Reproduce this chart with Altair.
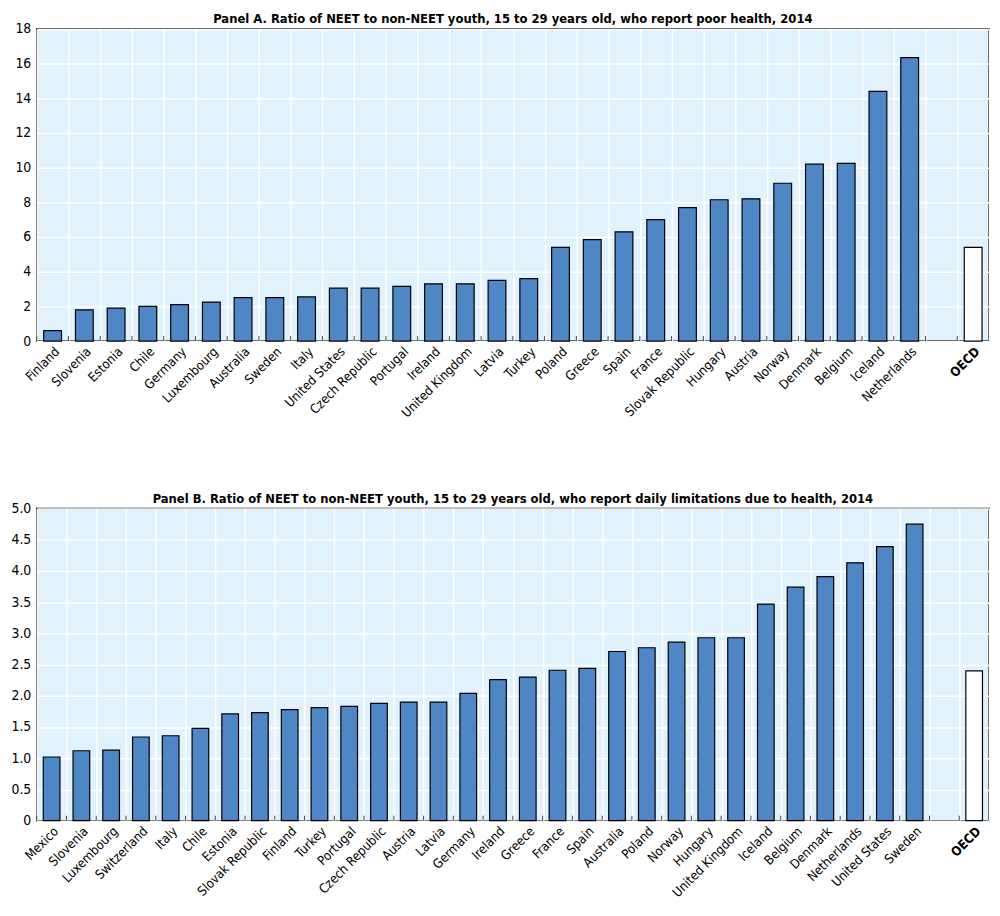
import altair as alt
import pandas as pd

FONT = "Liberation Sans Narrow, DejaVu Sans Condensed, Arial Narrow, sans-serif"

# Panel A
countries_a = ["Finland", "Slovenia", "Estonia", "Chile", "Germany", "Luxembourg", "Australia",
               "Sweden", "Italy", "United States", "Czech Republic", "Portugal", "Ireland",
               "United Kingdom", "Latvia", "Turkey", "Poland", "Greece", "Spain", "France",
               "Slovak Republic", "Hungary", "Austria", "Norway", "Denmark", "Belgium",
               "Iceland", "Netherlands", "OECD"]
values_a = [0.6, 1.8, 1.9, 2.0, 2.1, 2.25, 2.5, 2.5, 2.55, 3.05, 3.05, 3.15, 3.3, 3.3, 3.5, 3.6,
            5.4, 5.85, 6.3, 7.0, 7.7, 8.15, 8.2, 9.1, 10.2, 10.25, 14.4, 16.35, 5.4]
ticks_a = [0, 2, 4, 6, 8, 10, 12, 14, 16, 18]

# Panel B
countries_b = ["Mexico", "Slovenia", "Luxembourg", "Switzerland", "Italy", "Chile", "Estonia",
               "Slovak Republic", "Finland", "Turkey", "Portugal", "Czech Republic", "Austria",
               "Latvia", "Germany", "Ireland", "Greece", "France", "Spain", "Australia", "Poland",
               "Norway", "Hungary", "United Kingdom", "Iceland", "Belgium", "Denmark",
               "Netherlands", "United States", "Sweden", "OECD"]
values_b = [1.02, 1.12, 1.13, 1.34, 1.36, 1.48, 1.71, 1.73, 1.78, 1.81, 1.83, 1.88, 1.90, 1.90,
            2.04, 2.26, 2.30, 2.41, 2.44, 2.71, 2.77, 2.86, 2.93, 2.93, 3.47, 3.74, 3.91, 4.13,
            4.39, 4.75, 2.40]
ticks_b = [0, 0.5, 1.0, 1.5, 2.0, 2.5, 3.0, 3.5, 4.0, 4.5, 5.0]

title_a = "Panel A. Ratio of NEET to non-NEET youth, 15 to 29 years old, who report poor health, 2014"
title_b = "Panel B. Ratio of NEET to non-NEET youth, 15 to 29 years old, who report daily limitations due to health, 2014"

GAP = "_gap"
W, H = 961, 315
BAR = "#4F86C6"


def panel(countries, values, ticks, title, ylabel_expr):
    domain = countries[:-1] + [GAP] + [countries[-1]]
    df = pd.DataFrame({"country": countries, "value": values})
    tdf = pd.DataFrame({"country": domain})
    xscale = alt.Scale(domain=domain, paddingInner=0, paddingOuter=0)
    x = alt.X("country:N", sort=domain, scale=xscale, title=None,
              axis=alt.Axis(labelAngle=-45, tickBand="extent", grid=True, gridColor="white",
                            gridWidth=1.5, ticks=False, domain=False,
                            labelExpr=f"datum.value == '{GAP}' ? '' : datum.value",
                            labelFontWeight=alt.expr("datum.value == 'OECD' ? 'bold' : 'normal'"),
                            labelFontSize=13, labelFont=FONT, labelColor="black",
                            labelPadding=4))
    y = alt.Y("value:Q", scale=alt.Scale(domain=[ticks[0], ticks[-1]], nice=False), title=None,
              axis=alt.Axis(values=ticks, grid=True, gridColor="white", gridWidth=1.5,
                            ticks=False, domain=False, labelExpr=ylabel_expr,
                            labelFontSize=14, labelFont=FONT, labelColor="black",
                            labelPadding=6))
    bars = alt.Chart(df).mark_bar(width=alt.RelativeBandSize(0.56), stroke="black",
                                  strokeWidth=1.2).encode(
        x=x, y=y,
        fill=alt.condition(alt.datum.country == "OECD", alt.value("white"), alt.value(BAR)),
    )
    tickmarks = alt.Chart(tdf).mark_rule(color="#444", strokeWidth=1).encode(
        x=alt.X("country:N", sort=domain, scale=xscale, bandPosition=0),
        y=alt.value(H), y2=alt.value(H - 5),
    )
    return alt.layer(bars, tickmarks).properties(
        width=W, height=H,
        title=alt.TitleParams(title, fontSize=13, fontWeight="bold", font=FONT,
                              anchor="middle", color="black", offset=-4),
    )


chart_a = panel(countries_a, values_a, ticks_a, title_a, "format(datum.value, 'd')")
chart_b = panel(countries_b, values_b, ticks_b, title_b,
                "datum.value == 0 ? '0' : format(datum.value, '.1f')")

chart = alt.vconcat(chart_a, chart_b, spacing=71).configure_view(
    fill="#E1F2FC", stroke="black", strokeWidth=1.5
).properties(padding={"left": 2, "top": 0, "right": 2, "bottom": 2}, background="white")

chart.save("out.html", embed_options={"renderer": "svg", "actions": False})
